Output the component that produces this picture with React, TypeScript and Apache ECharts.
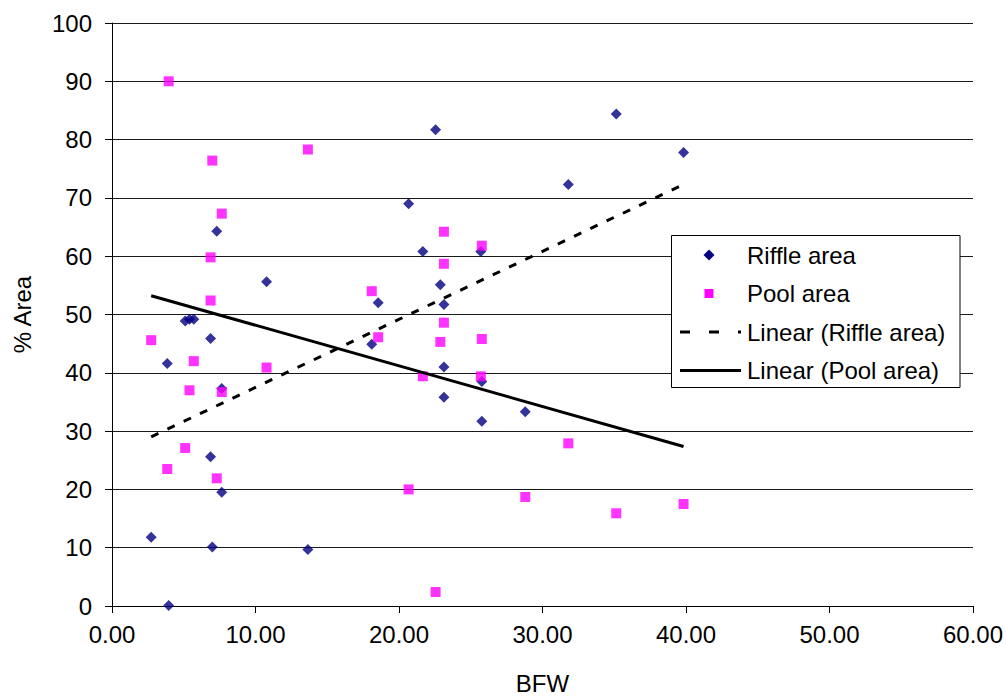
import { useEffect, useRef } from "react";
import * as echarts from "echarts";

const FONT = "'Liberation Sans', Arial, Helvetica, sans-serif";

// Bankfull width (BFW) for each surveyed reach
const bfw = [
  2.73, 3.85, 3.95, 5.1, 5.4, 5.7, 6.87, 6.87, 6.99, 7.3, 7.65, 7.65, 10.77, 13.65, 18.1,
  18.55, 20.67, 21.66, 22.55, 22.88, 23.13, 23.13, 23.13, 25.7, 25.77, 25.77, 28.8, 31.8,
  35.14, 39.83,
];
// % of the reach area in riffles
const riffleArea = [
  11.8, 41.6, 0.1, 48.9, 49.2, 49.2, 45.9, 25.6, 10.1, 64.3, 19.5, 37.3, 55.6, 9.7, 44.9,
  52.0, 69.0, 60.8, 81.7, 55.1, 51.7, 41.0, 35.8, 60.8, 38.5, 31.7, 33.3, 72.3, 84.4, 77.8,
];
// % of the reach area in pools
const poolArea = [
  45.6, 23.5, 90.0, 27.1, 37.0, 42.0, 52.4, 59.8, 76.4, 21.9, 67.3, 36.7, 40.9, 78.3, 54.0,
  46.1, 20.0, 39.4, 2.4, 45.3, 48.6, 58.7, 64.2, 39.4, 61.8, 45.8, 18.7, 27.9, 15.9, 17.5,
];

const seriesNames = ["Riffle area", "Pool area", "Linear (Riffle area)", "Linear (Pool area)"];

const RIFFLE_COLOR = "#000080";
const POOL_COLOR = "#FF00FF";

// Least-squares trend line spanning the x range of the data
function linearTrend(xs: number[], ys: number[]): number[][] {
  const n = xs.length;
  const mx = xs.reduce((a, b) => a + b, 0) / n;
  const my = ys.reduce((a, b) => a + b, 0) / n;
  let sxy = 0;
  let sxx = 0;
  for (let i = 0; i < n; i++) {
    sxy += (xs[i] - mx) * (ys[i] - my);
    sxx += (xs[i] - mx) * (xs[i] - mx);
  }
  const slope = sxy / sxx;
  const intercept = my - slope * mx;
  const x0 = Math.min(...xs);
  const x1 = Math.max(...xs);
  return [
    [x0, intercept + slope * x0],
    [x1, intercept + slope * x1],
  ];
}

function buildLegend() {
  const left = 671.5;
  const top = 235.5;
  const rowY = [255, 293.5, 332, 370.5];
  const iconX = 709;
  const textX = 747;
  const text = (i: number) => ({
    type: "text",
    x: textX,
    y: rowY[i],
    style: {
      text: seriesNames[i],
      font: `24px ${FONT}`,
      fill: "#000",
      textVerticalAlign: "middle",
      verticalAlign: "middle",
    },
  });
  return [
    {
      type: "rect",
      shape: { x: left, y: top, width: 288.5, height: 152 },
      style: { fill: "#fff", stroke: "#000", lineWidth: 1 },
      z: 10,
    },
    {
      type: "polygon",
      shape: {
        points: [
          [iconX, rowY[0] - 5.5],
          [iconX + 5.5, rowY[0]],
          [iconX, rowY[0] + 5.5],
          [iconX - 5.5, rowY[0]],
        ],
      },
      style: { fill: RIFFLE_COLOR },
      z: 11,
    },
    {
      type: "rect",
      shape: { x: iconX - 4.5, y: rowY[1] - 4.5, width: 9, height: 9 },
      style: { fill: POOL_COLOR },
      z: 11,
    },
    {
      type: "line",
      shape: { x1: 680, y1: rowY[2], x2: 741, y2: rowY[2] },
      style: { stroke: "#000", lineWidth: 3, lineDash: [10, 19] },
      z: 11,
    },
    {
      type: "line",
      shape: { x1: 680, y1: rowY[3], x2: 741, y2: rowY[3] },
      style: { stroke: "#000", lineWidth: 3 },
      z: 11,
    },
    { ...text(0), z: 11 },
    { ...text(1), z: 11 },
    { ...text(2), z: 11 },
    { ...text(3), z: 11 },
  ];
}

export default function App() {
  const ref = useRef<HTMLDivElement>(null);

  useEffect(() => {
    if (!ref.current) return;
    const chart = echarts.init(ref.current, null, { renderer: "svg" });

    const riffleData = bfw.map((x, i) => [x, riffleArea[i]]);
    const poolData = bfw.map((x, i) => [x, poolArea[i]]);

    chart.setOption({
      animation: false,
      backgroundColor: "#fff",
      textStyle: { fontFamily: FONT },
      grid: {
        left: 112,
        right: 33,
        top: 23,
        bottom: 90,
        containLabel: false,
        outerBoundsMode: "none",
      },
      xAxis: {
        type: "value",
        min: 0,
        max: 60,
        interval: 10,
        name: "BFW",
        nameLocation: "middle",
        nameGap: 65,
        nameTextStyle: { fontSize: 24, color: "#000", fontFamily: FONT },
        axisLine: { show: true, onZero: false, lineStyle: { color: "#000", width: 1 } },
        axisTick: { show: true, inside: false, length: 7, lineStyle: { color: "#000" } },
        axisLabel: {
          fontSize: 24,
          color: "#000",
          margin: 16,
          fontFamily: FONT,
          formatter: (v: number) => v.toFixed(2),
        },
        splitLine: { show: false },
      },
      yAxis: {
        type: "value",
        min: 0,
        max: 100,
        interval: 10,
        name: "% Area",
        nameLocation: "middle",
        nameGap: 78,
        nameRotate: 90,
        nameTextStyle: { fontSize: 24, color: "#000", fontFamily: FONT },
        axisLine: { show: true, lineStyle: { color: "#000", width: 1 } },
        axisTick: { show: true, inside: false, length: 7, lineStyle: { color: "#000" } },
        axisLabel: { fontSize: 24, color: "#000", margin: 20, fontFamily: FONT },
        splitLine: { show: true, lineStyle: { color: "#1a1a1a", width: 1 } },
      },
      series: [
        {
          name: seriesNames[0],
          type: "scatter",
          symbol: "diamond",
          symbolSize: 11,
          itemStyle: { color: RIFFLE_COLOR },
          data: riffleData,
          silent: true,
          z: 2,
        },
        {
          name: seriesNames[1],
          type: "scatter",
          symbol: "rect",
          symbolSize: 10,
          itemStyle: { color: POOL_COLOR },
          data: poolData,
          silent: true,
          z: 3,
        },
        {
          name: seriesNames[2],
          type: "line",
          symbol: "none",
          lineStyle: { color: "#000", width: 3, type: [8, 10] },
          data: linearTrend(bfw, riffleArea),
          silent: true,
          z: 4,
        },
        {
          name: seriesNames[3],
          type: "line",
          symbol: "none",
          lineStyle: { color: "#000", width: 3, type: "solid" },
          data: linearTrend(bfw, poolArea),
          silent: true,
          z: 4,
        },
      ],
      graphic: buildLegend(),
    });

    return () => chart.dispose();
  }, []);

  return (
    <div
      ref={ref}
      style={{ position: "fixed", left: 0, top: 0, width: 1006, height: 696, background: "#fff" }}
    />
  );
}
